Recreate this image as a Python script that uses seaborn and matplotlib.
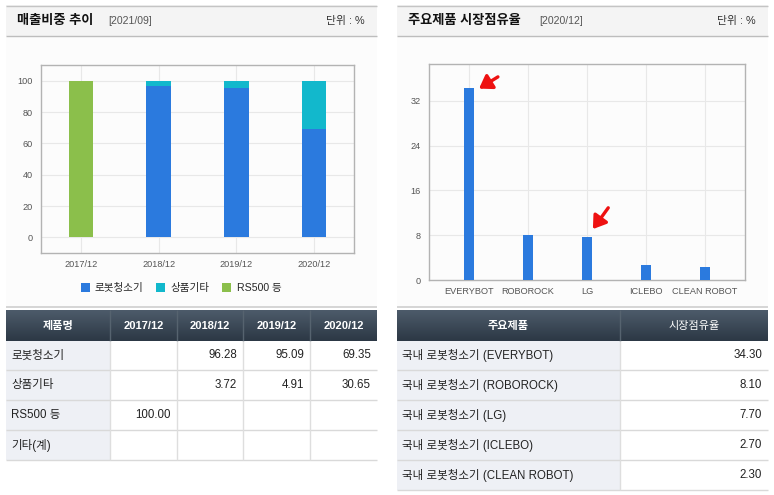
import numpy as np
import pandas as pd
import matplotlib
matplotlib.use("Agg")
import matplotlib.pyplot as plt
from matplotlib.patches import Rectangle, Patch
from matplotlib.colors import LinearSegmentedColormap
import seaborn as sns

# ---------------- data ----------------
periods = ["2017/12", "2018/12", "2019/12", "2020/12"]
robot = [np.nan, 96.28, 95.09, 69.35]      # 로봇청소기
goods = [np.nan, 3.72, 4.91, 30.65]        # 상품기타
rs500 = [100.00, np.nan, np.nan, np.nan]   # RS500 등
other = [np.nan, np.nan, np.nan, np.nan]   # 기타(계)
series_names = ["로봇청소기", "상품기타", "RS500 등"]
row_names = ["로봇청소기", "상품기타", "RS500 등", "기타(계)"]

brands = ["EVERYBOT", "ROBOROCK", "LG", "ICLEBO", "CLEAN ROBOT"]
shares = [34.30, 8.10, 7.70, 2.70, 2.30]

left_title, left_date = "매출비중 추이", "[2021/09]"
right_title, right_date = "주요제품 시장점유율", "[2020/12]"
unit_text = "단위 : %"

C_BLUE, C_CYAN, C_GREEN = "#2b7ade", "#12b8cc", "#8bbf4b"

# ---------------- setup ----------------
sns.set_theme(style="white")
plt.rcParams["font.family"] = ["Liberation Sans", "Noto Sans CJK KR", "DejaVu Sans"]

W, H = 774, 495
fig = plt.figure(figsize=(W / 100, H / 100), dpi=100, facecolor="white")

def px_axes(x0, y0, x1, y1, **kw):
    return fig.add_axes([x0 / W, 1 - y1 / H, (x1 - x0) / W, (y1 - y0) / H], **kw)

bg = fig.add_axes([0, 0, 1, 1], zorder=0)
bg.set_axis_off()

def hline(x0, x1, y, c, lw=1.0):
    bg.plot([x0, x1], [y, y], color=c, lw=lw, solid_capstyle="butt")

def vline(x, y0, y1, c, lw=1.0):
    bg.plot([x, x], [y0, y1], color=c, lw=lw, solid_capstyle="butt")

grad_cmap = LinearSegmentedColormap.from_list("hdr", ["#4d5b6a", "#2c3845"])

panels = [(6, 377, left_title, left_date), (397, 768, right_title, right_date)]
for (x0, x1, title, date) in panels:
    bg.add_patch(Rectangle((x0, 5), x1 - x0, 31, color="#f4f4f4", lw=0))
    bg.add_patch(Rectangle((x0, 36), x1 - x0, 271, color="#fcfcfc", lw=0))
    hline(x0, x1, 5.5, "#c4c4c4")
    hline(x0, x1, 36, "#bdbdbd")
    hline(x0, x1, 307, "#d2d2d2", lw=1.3)
    bg.text(x0 + 11, 21, title, fontsize=9.5, fontweight="bold", color="#111111",
            va="center", ha="left")
    tx = x0 + 102 if title == left_title else x0 + 142
    bg.text(tx, 21.5, date, fontsize=7.6, color="#555555", va="center", ha="left")
    bg.text(x1 - 12, 21, unit_text, fontsize=7.8, color="#333333", va="center", ha="right")
    # table header gradient
    bg.imshow(np.linspace(0, 1, 32)[:, None], cmap=grad_cmap, aspect="auto",
              extent=(x0, x1, 341, 310), origin="upper", zorder=1)

# ---------- left table ----------
lcols = [6, 110, 177, 243, 310, 377]
rows_y = [341, 370, 400, 430, 460]
bg.add_patch(Rectangle((lcols[0], 341), lcols[1] - lcols[0], rows_y[-1] - 341,
                       color="#eef0f5", lw=0, zorder=1))
headers_l = ["제품명"] + periods
for i, h in enumerate(headers_l):
    bg.text((lcols[i] + lcols[i + 1]) / 2, 326, h, color="white", fontsize=8,
            fontweight="bold", ha="center", va="center", zorder=3)
    if i > 0:
        vline(lcols[i], 310, 341, "#56636f")
table_rows = [robot, goods, rs500, other]
for r, (name, vals) in enumerate(zip(row_names, table_rows)):
    cy = (rows_y[r] + rows_y[r + 1]) / 2
    bg.text(lcols[0] + 5, cy, name, fontsize=8.3, color="#222222", ha="left", va="center", zorder=3)
    for c, v in enumerate(vals):
        if not np.isnan(v):
            bg.text(lcols[c + 2] - 6, cy, f"{v:.2f}", fontsize=8.3, color="#222222",
                    ha="right", va="center", zorder=3)
    hline(lcols[0], lcols[-1], rows_y[r + 1], "#d9d9d9")
for x in lcols[1:-1]:
    vline(x, 341, rows_y[-1], "#dedede")

# ---------- right table ----------
rcols = [397, 620, 768]
rrows = [341, 370, 400, 430, 460, 490]
bg.add_patch(Rectangle((rcols[0], 341), rcols[1] - rcols[0], rrows[-1] - 341,
                       color="#eef0f5", lw=0, zorder=1))
bg.text((rcols[0] + rcols[1]) / 2, 326, "주요제품", color="white", fontsize=8,
        fontweight="bold", ha="center", va="center", zorder=3)
bg.text((rcols[1] + rcols[2]) / 2, 326, "시장점유율", color="white", fontsize=8,
        ha="center", va="center", zorder=3)
vline(rcols[1], 310, 341, "#56636f")
for r, (b, s) in enumerate(zip(brands, shares)):
    cy = (rrows[r] + rrows[r + 1]) / 2
    bg.text(rcols[0] + 5, cy, f"국내 로봇청소기 ({b})", fontsize=8.3, color="#222222",
            ha="left", va="center", zorder=3)
    bg.text(rcols[2] - 6, cy, f"{s:.2f}", fontsize=8.3, color="#222222",
            ha="right", va="center", zorder=3)
    hline(rcols[0], rcols[2], rrows[r + 1], "#d9d9d9")
vline(rcols[1], 341, rrows[-1], "#dedede")

bg.set_xlim(0, W)
bg.set_ylim(H, 0)

# ---------------- left chart (stacked bars) ----------------
axL = px_axes(41, 65, 354, 253, zorder=2)
axL.set_facecolor("#fcfcfc")
stack = np.nan_to_num(np.array([robot, goods, rs500], dtype=float))
cum = np.cumsum(stack, axis=0)
colors = [C_BLUE, C_CYAN, C_GREEN]
for k in [2, 1, 0]:
    df = pd.DataFrame({"period": periods, "value": cum[k]})
    sns.barplot(data=df, x="period", y="value", order=periods, color=colors[k],
                width=0.32, saturation=1, errorbar=None, ax=axL, zorder=3, linewidth=0)
axL.set_xlim(-0.515, 3.515)
axL.set_ylim(-10, 110)
axL.set_yticks([0, 20, 40, 60, 80, 100])
axL.set_xlabel("")
axL.set_ylabel("")

# ---------------- right chart ----------------
axR = px_axes(429, 64, 745, 280, zorder=2)
axR.set_facecolor("#fcfcfc")
dfR = pd.DataFrame({"brand": brands, "share": shares})
sns.barplot(data=dfR, x="brand", y="share", order=brands, color=C_BLUE, width=0.153,
            saturation=1, errorbar=None, ax=axR, zorder=3, linewidth=0)
axR.set_xlim(-0.678, 4.678)
axR.set_ylim(0, 38.6)
axR.set_yticks([0, 8, 16, 24, 32])
axR.set_xlabel("")
axR.set_ylabel("")

for ax in (axL, axR):
    ax.grid(True, color="#e8e8e8", lw=0.8, zorder=0)
    ax.set_axisbelow(True)
    for sp in ax.spines.values():
        sp.set_color("#b3b3b3")
        sp.set_linewidth(1.0)
    ax.tick_params(axis="both", length=0, labelsize=6.6, labelcolor="#555555")
    ax.tick_params(axis="y", pad=6)
    ax.tick_params(axis="x", pad=5)

# red arrows (head offset, tail offset relative to bar top)
arrows = [(0, (0.17, -0.1), (0.49, 2.0)), (2, (0.10, 1.4), (0.36, 5.2))]
for idx, (hx, hy), (tx_, ty) in arrows:
    v = shares[idx]
    axR.annotate("", xy=(idx + hx, v + hy), xytext=(idx + tx_, v + ty),
                 arrowprops=dict(arrowstyle="-|>,head_width=0.5,head_length=0.75", color="#ee1111",
                                 lw=2.4, shrinkA=0, shrinkB=0, mutation_scale=10),
                 annotation_clip=False, zorder=5)

# legend
handles = [Patch(facecolor=c, edgecolor="none", label=n) for c, n in zip(colors, series_names)]
fig.legend(handles=handles, loc="center", bbox_to_anchor=(181 / W, 1 - 288 / H), ncol=3,
           frameon=False, fontsize=7.6, handlelength=0.85, handleheight=0.85,
           handletextpad=0.5, columnspacing=1.2, borderpad=0)

fig.savefig("out.png", dpi=100, facecolor="white")
